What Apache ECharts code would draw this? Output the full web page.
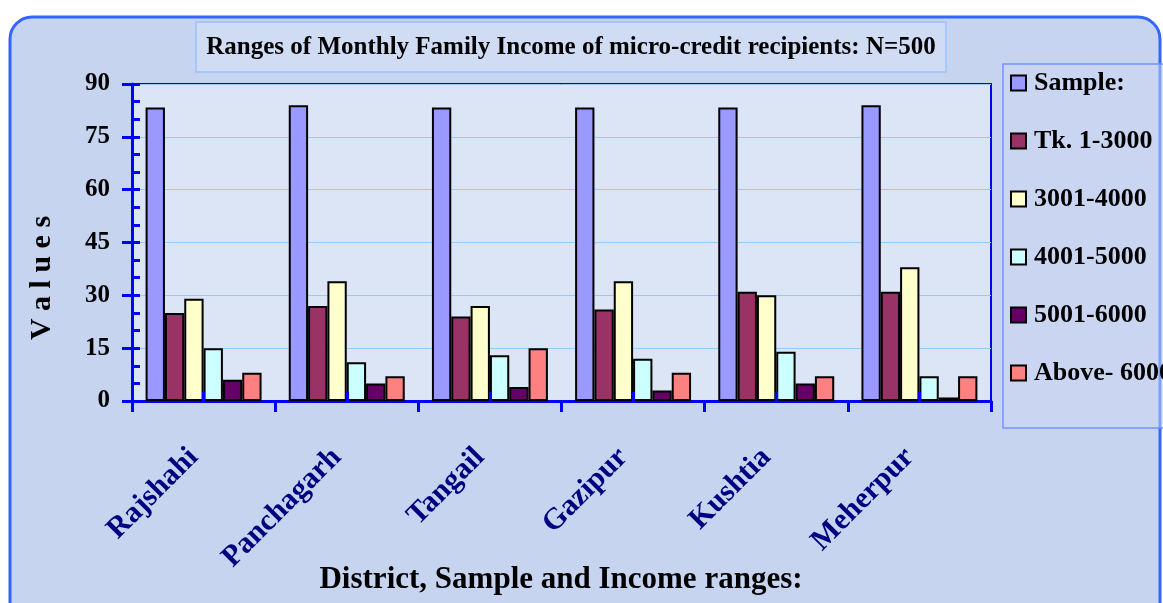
<!DOCTYPE html>
<html>
<head>
<meta charset="utf-8">
<script src="https://cdn.jsdelivr.net/npm/echarts@6/dist/echarts.min.js"></script>
<style>
html,body{margin:0;padding:0;background:#ffffff;}
#chart{width:1163px;height:603px;}
</style>
</head>
<body>
<div id="chart"></div>
<script>
// ---- data ----
const categories = ['Rajshahi', 'Panchagarh', 'Tangail', 'Gazipur', 'Kushtia', 'Meherpur'];
const seriesNames = ['Sample:', 'Tk. 1-3000', '3001-4000', '4001-5000', '5001-6000', 'Above- 6000'];
const sampleVals = [83.3, 84, 83.3, 83.3, 83.3, 84];
const tk1to3000 = [25, 27, 24, 26, 31, 31];
const r3001to4000 = [29, 34, 27, 34, 30, 38];
const r4001to5000 = [15, 11, 13, 12, 14, 7];
const r5001to6000 = [6, 5, 4, 3, 5, 1];
const above6000 = [8, 7, 15, 8, 7, 7];
const yTicks = { min: 0, max: 90, interval: 15 };

const titleText = 'Ranges of Monthly Family Income of micro-credit recipients: N=500';
const xAxisTitle = 'District, Sample and Income ranges:';
const yAxisTitle = 'V a l u e s';

// ---- styles ----
const colors = ['#9999ff', '#993366', '#ffffcc', '#ccffff', '#660066', '#ff8080'];
const serif = '"Times New Roman", "Liberation Serif", serif';
const blue = '#0000ff';
const allValues = [sampleVals, tk1to3000, r3001to4000, r4001to5000, r5001to6000, above6000];

const chart = echarts.init(document.getElementById('chart'), null, { renderer: 'canvas' });

const series = allValues.map((vals, i) => ({
  name: seriesNames[i],
  type: 'bar',
  xAxisIndex: 0,
  yAxisIndex: 0,
  data: vals,
  barGap: '0%',
  barCategoryGap: '19%',
  itemStyle: { color: colors[i], borderColor: '#000000', borderWidth: 2 },
  emphasis: { disabled: true },
  z: 2
}));

const option = {
  animation: false,
  backgroundColor: 'transparent',
  color: colors,
  graphic: [
    { type: 'rect', z: -10, silent: true,
      shape: { x: 10, y: 17, width: 1150, height: 610, r: 22 },
      style: { fill: '#c7d4f0', stroke: '#3366ff', lineWidth: 3 } },
    { type: 'rect', z: -5, silent: true,
      shape: { x: 196, y: 22, width: 750, height: 50 },
      style: { fill: 'rgba(214,224,246,0.6)', stroke: '#99c2ff', lineWidth: 1.5 } },
    { type: 'text', z: 10, silent: true, position: [571, 48],
      style: { text: titleText, fill: '#000', font: 'bold 25px ' + serif, textAlign: 'center', textVerticalAlign: 'middle' } },
    { type: 'rect', z: -5, silent: true,
      shape: { x: 1003, y: 64, width: 200, height: 364 },
      style: { fill: 'rgba(205,216,242,0.5)', stroke: '#6f95ff', lineWidth: 1.5 } },
    { type: 'text', z: 10, silent: true, position: [42, 278], rotation: Math.PI / 2,
      style: { text: yAxisTitle, fill: '#000', font: 'bold 30px ' + serif, textAlign: 'center', textVerticalAlign: 'middle' } },
    { type: 'text', z: 10, silent: true, position: [561, 580],
      style: { text: xAxisTitle, fill: '#000', font: 'bold 31px ' + serif, textAlign: 'center', textVerticalAlign: 'middle' } }
  ],
  legend: {
    orient: 'vertical',
    left: 1010,
    top: 70,
    padding: 0,
    icon: 'rect',
    itemWidth: 15,
    itemHeight: 15,
    itemGap: 32,
    selectedMode: false,
    textStyle: { fontFamily: serif, fontWeight: 'bold', fontSize: 26, color: '#000', lineHeight: 26, padding: [0, 0, 0, 3] },
    data: seriesNames
  },
  grid: {
    left: 132, right: 172, top: 84, bottom: 202,
    show: true, backgroundColor: '#dbe5f6', borderColor: blue, borderWidth: 2
  },
  xAxis: [
    {
      type: 'category',
      data: categories,
      position: 'bottom',
      axisLine: { show: true, lineStyle: { color: blue, width: 3 } },
      axisTick: { show: true, inside: false, length: 11, interval: 0, lineStyle: { color: blue, width: 3 } },
      axisLabel: { interval: 0, rotate: 45, margin: 42, padding: [0, 14, 0, 0], color: '#000080', fontFamily: serif, fontWeight: 'bold', fontSize: 30 },
      splitLine: { show: false }
    },
    {
      type: 'category',
      data: categories,
      position: 'bottom',
      z: 5,
      axisLine: { show: false },
      axisTick: { show: true, inside: true, alignWithLabel: true, length: 9, interval: 0, lineStyle: { color: blue, width: 3 } },
      axisLabel: { show: false },
      splitLine: { show: false }
    }
  ],
  yAxis: [
    {
      type: 'value',
      min: yTicks.min, max: yTicks.max, interval: yTicks.interval,
      position: 'left',
      axisLine: { show: true, lineStyle: { color: blue, width: 3 } },
      axisTick: { show: true, inside: false, length: 10, lineStyle: { color: blue, width: 3 } },
      axisLabel: { margin: 22, color: '#000', fontFamily: serif, fontWeight: 'bold', fontSize: 25 },
      splitLine: { show: true, lineStyle: { color: '#99c9f5', width: 1 } }
    },
    {
      type: 'value',
      min: yTicks.min, max: yTicks.max, interval: yTicks.interval,
      position: 'left',
      z: 5,
      axisLine: { show: false },
      axisTick: { show: true, inside: true, length: 8, lineStyle: { color: blue, width: 3 } },
      minorTick: { show: true, splitNumber: 3, length: 8, lineStyle: { color: blue, width: 3 } },
      axisLabel: { show: false },
      splitLine: { show: false }
    }
  ],
  series: series
};

chart.setOption(option);
</script>
</body>
</html>
